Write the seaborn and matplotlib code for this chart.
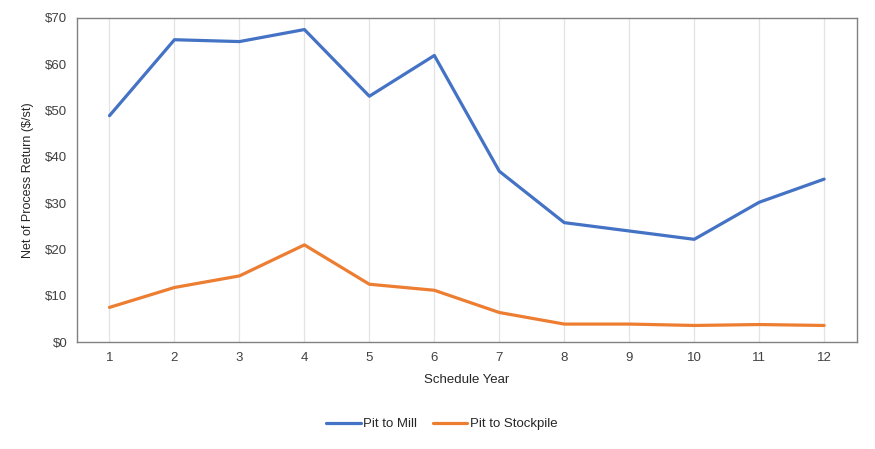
import pandas as pd
import matplotlib.pyplot as plt
import seaborn as sns

years = [1, 2, 3, 4, 5, 6, 7, 8, 9, 10, 11, 12]
pit_to_mill = [48.9, 65.3, 64.9, 67.5, 53.1, 61.9, 36.9, 25.8, 24.0, 22.2, 30.2, 35.2]
pit_to_stockpile = [7.5, 11.8, 14.3, 21.0, 12.5, 11.2, 6.4, 3.9, 3.9, 3.6, 3.8, 3.6]
series_names = ['Pit to Mill', 'Pit to Stockpile']

df = pd.DataFrame({
    'Schedule Year': years * 2,
    'Return': pit_to_mill + pit_to_stockpile,
    'Series': [series_names[0]] * len(years) + [series_names[1]] * len(years),
})

sns.set_style('white')
plt.rcParams['font.family'] = ['Liberation Sans', 'DejaVu Sans']

fig = plt.figure(figsize=(8.75, 4.49), dpi=100)
ax = fig.add_axes([0.088, 0.238, 0.891, 0.722])

sns.lineplot(data=df, x='Schedule Year', y='Return', hue='Series',
             palette=['#4472C4', '#ED7D31'], linewidth=2.3, ax=ax, legend=False)

# vertical gridlines only, like the source
for yr in years:
    ax.axvline(yr, color='#e3e3e3', linewidth=0.9, zorder=0)

ax.set_xlim(0.5, 12.5)
ax.set_ylim(0, 70)
ax.set_xticks(years)
ax.set_yticks(range(0, 71, 10))
ax.set_yticklabels([f'${v}' for v in range(0, 71, 10)])
ax.tick_params(length=0, labelsize=9.5, colors='#404040', pad=7)
for s in ax.spines.values():
    s.set_color('#808080')
    s.set_linewidth(1.0)

ax.set_xlabel('Schedule Year', fontsize=9.5, color='#262626', labelpad=7)
ax.set_ylabel('Net of Process Return ($/st)', fontsize=9, color='#262626', labelpad=8)

handles = [plt.Line2D([], [], color=c, linewidth=2.3) for c in ['#4472C4', '#ED7D31']]
fig.legend(handles, series_names, loc='center', bbox_to_anchor=(0.505, 0.055), ncol=2,
           frameon=False, fontsize=9.5, handlelength=2.6, columnspacing=1.2, handletextpad=0.2,
           labelcolor='#262626')

fig.savefig('out.png', dpi=100, facecolor='white')
